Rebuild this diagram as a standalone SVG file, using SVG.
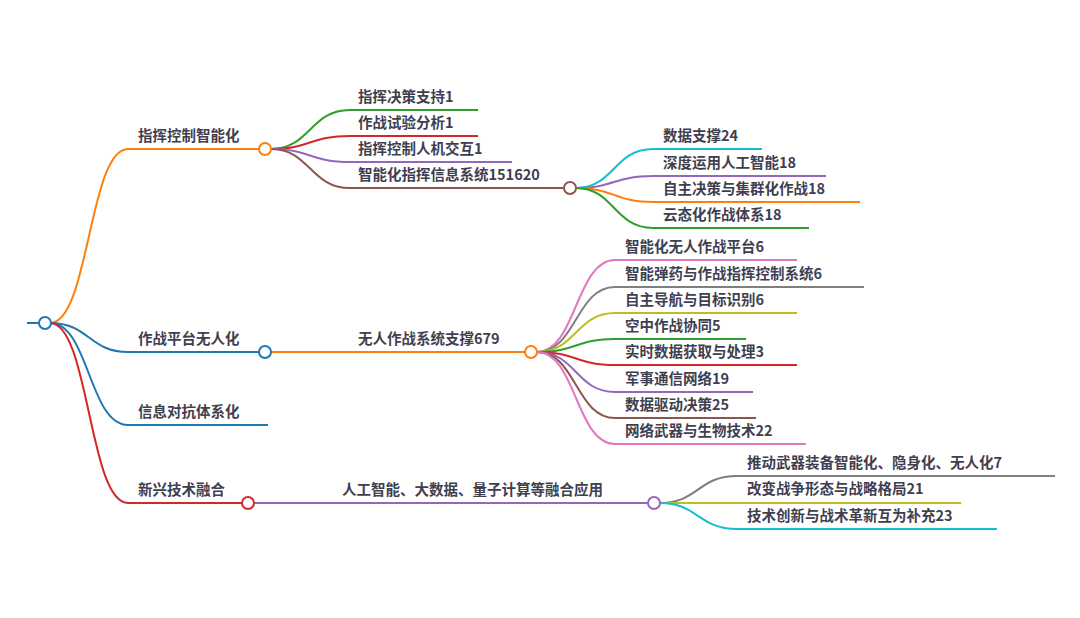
<svg xmlns="http://www.w3.org/2000/svg" width="1080" height="618" viewBox="0 0 1080 618">
<style>
text{font-family:"Noto Sans CJK SC","Noto Sans",sans-serif;font-weight:bold;font-size:14.5px;fill:#3f3f50}
.l{fill:none;stroke-width:2}
circle{fill:#fff;stroke-width:2}
.or{stroke:#ff7f0e}.bl{stroke:#1f77b4}.gr{stroke:#2ca02c}.rd{stroke:#d62728}.pu{stroke:#9467bd}.br{stroke:#8c564b}.pk{stroke:#e377c2}.gy{stroke:#7f7f7f}.ol{stroke:#bcbd22}.cy{stroke:#17becf}
</style>
<rect width="1080" height="618" fill="#fff"/>
<g id="connectors">
<path class="l bl" d="M27 323H39"/>
<path class="l or" d="M50 323C89 323 89 149 128 149H259"/>
<path class="l bl" d="M50 323C89 323 89 352 128 352H259"/>
<path class="l bl" d="M50 323C89 323 89 425 128 425H268"/>
<path class="l rd" d="M50 323C89 323 89 503 128 503H242"/>
<path class="l gr" d="M271 149C310 149 310 110 350 110H478"/>
<path class="l rd" d="M271 149C310 149 310 136 350 136H478"/>
<path class="l pu" d="M271 149C310 149 310 162 350 162H512"/>
<path class="l br" d="M271 149C310 149 310 188 350 188H564"/>
<path class="l cy" d="M576 188C614 188 614 149 653 149H762"/>
<path class="l pu" d="M576 188C614 188 614 176 653 176H826"/>
<path class="l or" d="M576 188C614 188 614 202 653 202H860"/>
<path class="l gr" d="M576 188C614 188 614 228 653 228H809"/>
<path class="l or" d="M271 352H525"/>
<path class="l pk" d="M537 352C576 352 576 260 615 260H797"/>
<path class="l gy" d="M537 352C576 352 576 287 615 287H864"/>
<path class="l ol" d="M537 352C576 352 576 313 615 313H797"/>
<path class="l gr" d="M537 352C576 352 576 339 615 339H746"/>
<path class="l rd" d="M537 352C576 352 576 365 615 365H797"/>
<path class="l pu" d="M537 352C576 352 576 392 615 392H753"/>
<path class="l br" d="M537 352C576 352 576 418 615 418H756"/>
<path class="l pk" d="M537 352C576 352 576 444 615 444H806"/>
<path class="l pu" d="M254 503H648"/>
<path class="l gy" d="M660 503C698 503 698 476 737 476H1055"/>
<path class="l ol" d="M660 503H961"/>
<path class="l cy" d="M660 503C698 503 698 529 737 529H997"/>
</g>
<g id="root"><circle class="bl" cx="45" cy="323" r="6"/></g>
<g id="n1"><text x="138" y="141">指挥控制智能化</text><circle class="or" cx="265" cy="149" r="6"/></g>
<g id="n1-1"><text x="358" y="102">指挥决策支持1</text></g>
<g id="n1-2"><text x="358" y="128">作战试验分析1</text></g>
<g id="n1-3"><text x="358" y="154">指挥控制人机交互1</text></g>
<g id="n1-4"><text x="358" y="180">智能化指挥信息系统151620</text><circle class="br" cx="570" cy="188" r="6"/></g>
<g id="n1-4-1"><text x="663" y="141">数据支撑24</text></g>
<g id="n1-4-2"><text x="663" y="168">深度运用人工智能18</text></g>
<g id="n1-4-3"><text x="663" y="194">自主决策与集群化作战18</text></g>
<g id="n1-4-4"><text x="663" y="220">云态化作战体系18</text></g>
<g id="n2"><text x="138" y="344">作战平台无人化</text><circle class="bl" cx="265" cy="352" r="6"/></g>
<g id="n2-1"><text x="358" y="344">无人作战系统支撑679</text><circle class="or" cx="531" cy="352" r="6"/></g>
<g id="n2-1-1"><text x="625" y="252">智能化无人作战平台6</text></g>
<g id="n2-1-2"><text x="625" y="279">智能弹药与作战指挥控制系统6</text></g>
<g id="n2-1-3"><text x="625" y="305">自主导航与目标识别6</text></g>
<g id="n2-1-4"><text x="625" y="331">空中作战协同5</text></g>
<g id="n2-1-5"><text x="625" y="357">实时数据获取与处理3</text></g>
<g id="n2-1-6"><text x="625" y="384">军事通信网络19</text></g>
<g id="n2-1-7"><text x="625" y="410">数据驱动决策25</text></g>
<g id="n2-1-8"><text x="625" y="436">网络武器与生物技术22</text></g>
<g id="n3"><text x="138" y="417">信息对抗体系化</text></g>
<g id="n4"><text x="138" y="495">新兴技术融合</text><circle class="rd" cx="248" cy="503" r="6"/></g>
<g id="n4-1"><text x="342" y="495">人工智能、大数据、量子计算等融合应用</text><circle class="pu" cx="654" cy="503" r="6"/></g>
<g id="n4-1-1"><text x="747" y="468">推动武器装备智能化、隐身化、无人化7</text></g>
<g id="n4-1-2"><text x="747" y="494">改变战争形态与战略格局21</text></g>
<g id="n4-1-3"><text x="747" y="521">技术创新与战术革新互为补充23</text></g>
</svg>
